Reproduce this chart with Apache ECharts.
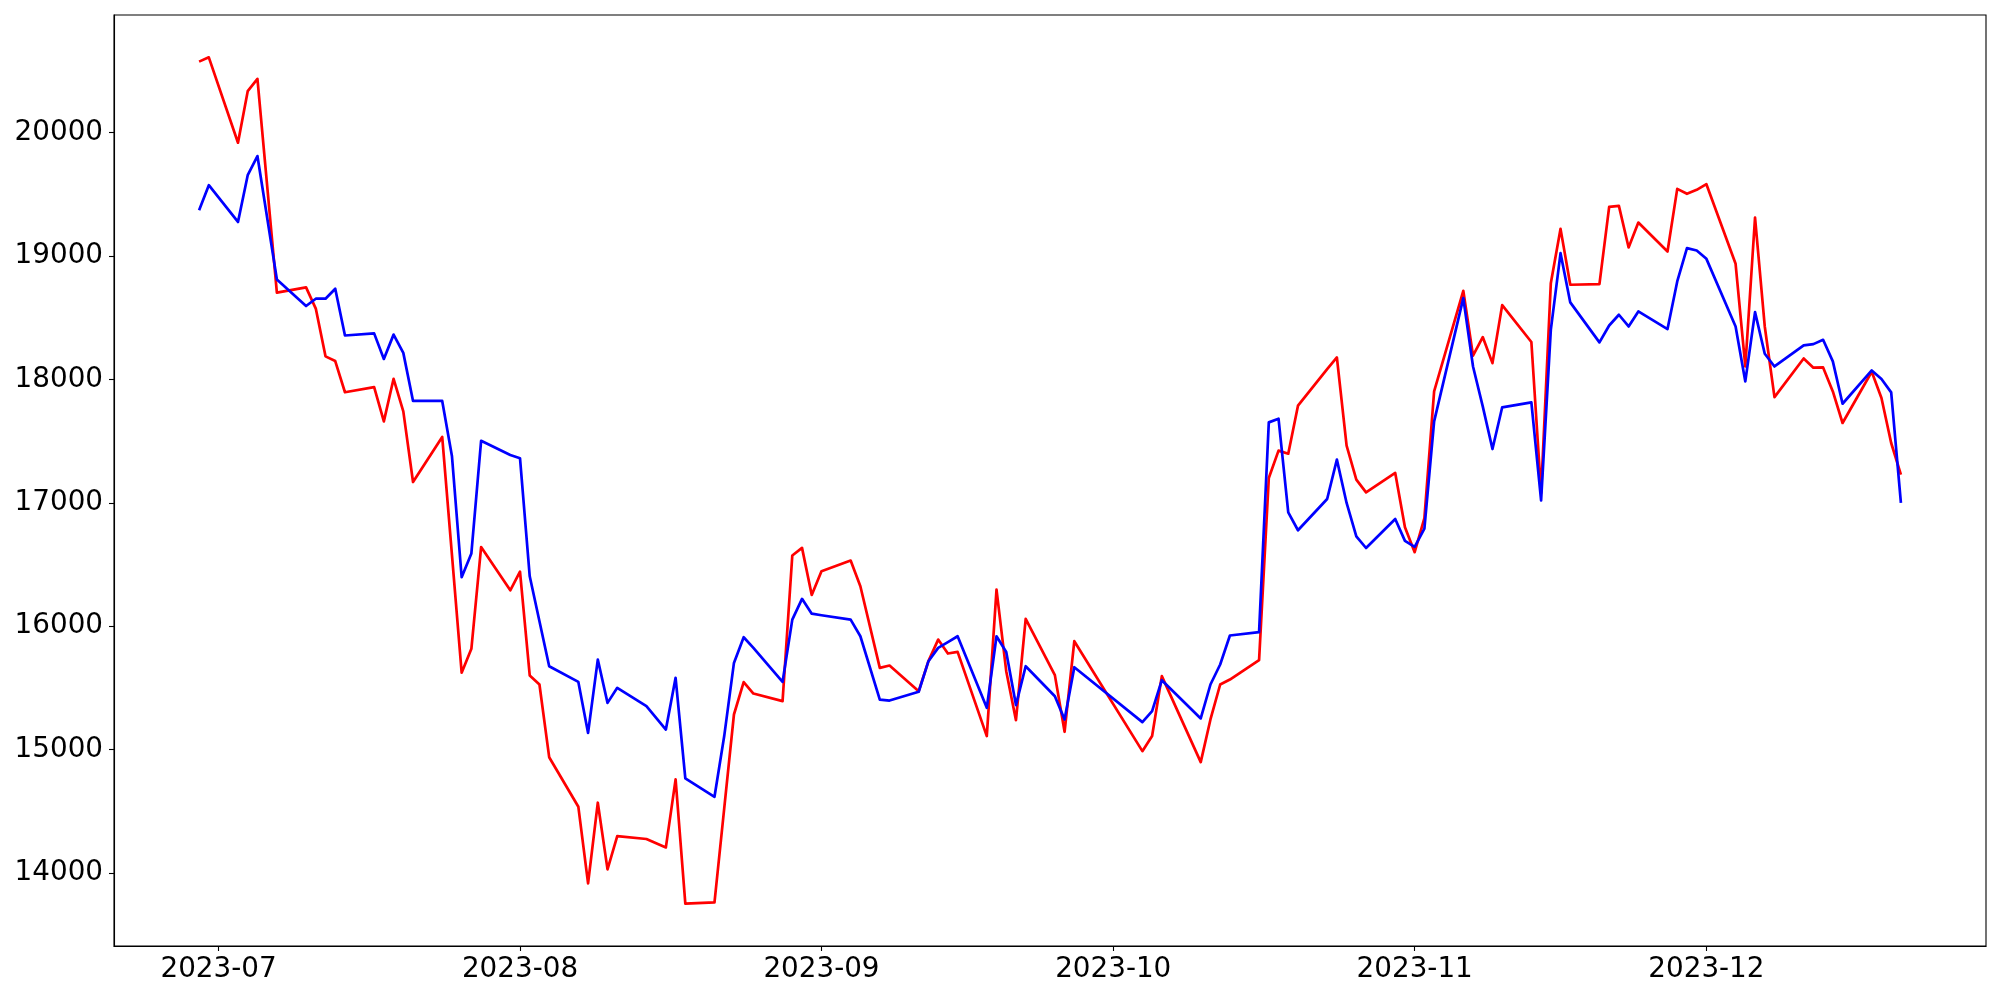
<!DOCTYPE html>
<html>
<head>
<meta charset="utf-8">
<script src="https://cdn.jsdelivr.net/npm/echarts@6/dist/echarts.min.js"></script>
<style>
html,body{margin:0;padding:0;background:#fff;}
#chart{width:2000px;height:1000px;}
</style>
</head>
<body>
<div id="chart"></div>
<script>
const dates = [
"2023-06-29","2023-06-30","2023-07-03","2023-07-04","2023-07-05","2023-07-07","2023-07-10","2023-07-11","2023-07-12","2023-07-13",
"2023-07-14","2023-07-17","2023-07-18","2023-07-19","2023-07-20","2023-07-21","2023-07-24","2023-07-25","2023-07-26","2023-07-27",
"2023-07-28","2023-07-31","2023-08-01","2023-08-02","2023-08-03","2023-08-04","2023-08-07","2023-08-08","2023-08-09","2023-08-10",
"2023-08-11","2023-08-14","2023-08-16","2023-08-17","2023-08-18","2023-08-21","2023-08-22","2023-08-23","2023-08-24","2023-08-25",
"2023-08-28","2023-08-29","2023-08-30","2023-08-31","2023-09-01","2023-09-04","2023-09-05","2023-09-07","2023-09-08","2023-09-11",
"2023-09-12","2023-09-13","2023-09-14","2023-09-15","2023-09-18","2023-09-19","2023-09-20","2023-09-21","2023-09-22","2023-09-25",
"2023-09-26","2023-09-27","2023-10-04","2023-10-05","2023-10-06","2023-10-10","2023-10-11","2023-10-12","2023-10-13","2023-10-16",
"2023-10-17","2023-10-18","2023-10-19","2023-10-20","2023-10-23","2023-10-24","2023-10-25","2023-10-26","2023-10-27","2023-10-30",
"2023-10-31","2023-11-01","2023-11-02","2023-11-03","2023-11-06","2023-11-07","2023-11-08","2023-11-09","2023-11-10","2023-11-13",
"2023-11-14","2023-11-15","2023-11-16","2023-11-17","2023-11-20","2023-11-21","2023-11-22","2023-11-23","2023-11-24","2023-11-27",
"2023-11-28","2023-11-29","2023-11-30","2023-12-01","2023-12-04","2023-12-05","2023-12-06","2023-12-07","2023-12-08","2023-12-11",
"2023-12-12","2023-12-13","2023-12-14","2023-12-15","2023-12-18","2023-12-19","2023-12-20","2023-12-21"
];

const redValues = [
20575,20610,19918,20336,20435,18703,18746,18574,18187,18149,
17896,17938,17660,18005,17741,17169,17534,16580,15624,15817,
16642,16291,16442,15601,15528,14939,14537,13916,14570,14030,
14300,14276,14208,14759,13752,13763,14524,15285,15547,15455,
15393,16573,16635,16254,16446,16532,16324,15663,15682,15474,
15717,15892,15779,15792,15110,16297,15636,15239,16060,15604,
15145,15879,14988,15110,15596,14899,15245,15528,15568,15725,
17201,17423,17398,17787,18084,18178,17463,17188,17085,17242,
16803,16600,16877,17903,18718,18192,18343,18132,18602,18303,
17080,18780,19220,18767,18772,19398,19406,19069,19271,19037,
19544,19504,19536,19582,18937,18105,19312,18429,17857,18170,
18095,18097,17903,17647,18062,17849,17485,17228
];

const blueValues = [
19371,19574,19276,19655,19810,18809,18595,18654,18654,18735,
18356,18373,18166,18363,18215,17826,17826,17380,16397,16590,
17503,17387,17362,16405,16041,15676,15549,15136,15730,15379,
15501,15352,15163,15582,14767,14618,15110,15703,15911,15825,
15549,16054,16222,16102,16089,16054,15919,15406,15398,15469,
15717,15825,15871,15919,15339,15919,15792,15361,15676,15433,
15244,15668,15223,15312,15563,15253,15528,15690,15925,15952,
17652,17682,16923,16778,17031,17350,16999,16729,16634,16869,
16692,16643,16792,17660,18659,18105,17782,17436,17774,17814,
17020,18402,19023,18624,18300,18437,18524,18429,18551,18408,
18794,19064,19045,18977,18429,17984,18545,18208,18105,18276,
18286,18321,18146,17803,18073,18003,17895,16999
];

const yTicks = [14000,15000,16000,17000,18000,19000,20000];
const xTickDates = ["2023-07-01","2023-08-01","2023-09-01","2023-10-01","2023-11-01","2023-12-01"];
const xTickLabels = ["2023-07","2023-08","2023-09","2023-10","2023-11","2023-12"];

function toTime(s){ const p=s.split('-').map(Number); return Date.UTC(p[0],p[1]-1,p[2]); }

const redData = dates.map((d,i)=>[toTime(d), redValues[i]]);
const blueData = dates.map((d,i)=>[toTime(d), blueValues[i]]);

const t0 = toTime(dates[0]), t1 = toTime(dates[dates.length-1]);
const xPad = (t1-t0)*0.05;
const allV = redValues.concat(blueValues);
const vMin = Math.min(...allV), vMax = Math.max(...allV);
const yPad = (vMax-vMin)*0.05;

const xTickTimes = xTickDates.map(toTime);
const font = 'DejaVu Sans';
const fs = 27.8;

const chart = echarts.init(document.getElementById('chart'), null, {renderer:'canvas'});
chart.setOption({
  animation:false,
  backgroundColor:'#ffffff',
  grid:{left:114,right:14,top:15,bottom:54,show:true,borderColor:'#000',borderWidth:1.1,backgroundColor:'transparent',containLabel:false},
  xAxis:{
    type:'value',
    min:t0-xPad, max:t1+xPad,
    splitLine:{show:false},
    axisLine:{show:true,onZero:false,lineStyle:{color:'#000',width:1.1}},
    axisTick:{show:true,length:5,lineStyle:{color:'#000',width:1.1},customValues:xTickTimes},
    axisLabel:{show:true,margin:10,color:'#000',fontFamily:font,fontSize:fs,
      customValues:xTickTimes,
      formatter:function(v){const i=xTickTimes.indexOf(v);return i>=0?xTickLabels[i]:'';}}
  },
  yAxis:{
    type:'value',
    min:vMin-yPad, max:vMax+yPad,
    splitLine:{show:false},
    axisLine:{show:true,onZero:false,lineStyle:{color:'#000',width:1.1}},
    axisTick:{show:true,length:5,lineStyle:{color:'#000',width:1.1},customValues:yTicks},
    axisLabel:{show:true,margin:11,color:'#000',fontFamily:font,fontSize:fs,customValues:yTicks,
      formatter:function(v){return String(v);}}
  },
  series:[
    {type:'line',data:redData,showSymbol:false,symbol:'none',lineStyle:{color:'#ff0000',width:2.7,join:'round'},itemStyle:{color:'#ff0000'},z:2},
    {type:'line',data:blueData,showSymbol:false,symbol:'none',lineStyle:{color:'#0000ff',width:2.7,join:'round'},itemStyle:{color:'#0000ff'},z:3}
  ]
});
</script>
</body>
</html>
